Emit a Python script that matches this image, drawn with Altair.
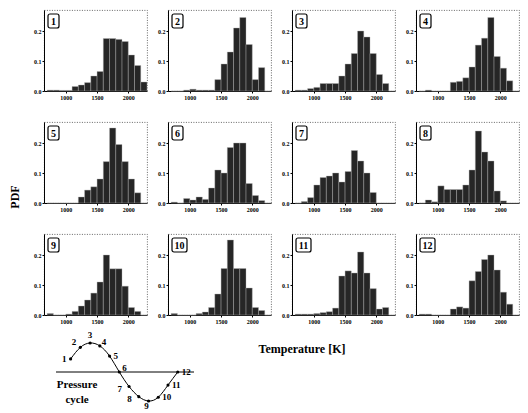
import altair as alt
import pandas as pd

# ---- histogram data (PDF per 100 K temperature bin) ----
bin_starts = [700, 800, 900, 1000, 1100, 1200, 1300, 1400,
              1500, 1600, 1700, 1800, 1900, 2000, 2100, 2200]
bin_width = 100

p1 = [0.003, 0.003, 0.002, 0.002, 0.015, 0.020, 0.028, 0.050, 0.065, 0.175, 0.175, 0.172, 0.165, 0.120, 0.085, 0.030]
p2 = [0.000, 0.000, 0.003, 0.006, 0.003, 0.003, 0.003, 0.038, 0.090, 0.130, 0.210, 0.245, 0.155, 0.038, 0.078, 0.000]
p3 = [0.003, 0.003, 0.008, 0.012, 0.025, 0.025, 0.025, 0.050, 0.090, 0.125, 0.200, 0.180, 0.125, 0.055, 0.025, 0.000]
p4 = [0.000, 0.003, 0.000, 0.000, 0.000, 0.029, 0.032, 0.044, 0.080, 0.153, 0.176, 0.245, 0.115, 0.076, 0.034, 0.000]
p5 = [0.000, 0.000, 0.000, 0.000, 0.000, 0.020, 0.043, 0.054, 0.080, 0.138, 0.250, 0.195, 0.138, 0.080, 0.034, 0.000]
p6 = [0.003, 0.000, 0.015, 0.010, 0.020, 0.012, 0.050, 0.110, 0.100, 0.185, 0.200, 0.200, 0.065, 0.025, 0.008, 0.000]
p7 = [0.000, 0.005, 0.018, 0.060, 0.085, 0.090, 0.100, 0.070, 0.105, 0.175, 0.140, 0.100, 0.035, 0.000, 0.000, 0.000]
p8 = [0.000, 0.010, 0.004, 0.057, 0.045, 0.045, 0.045, 0.060, 0.110, 0.240, 0.170, 0.140, 0.040, 0.007, 0.000, 0.000]
p9 = [0.005, 0.000, 0.000, 0.003, 0.012, 0.030, 0.050, 0.073, 0.110, 0.200, 0.154, 0.154, 0.096, 0.025, 0.012, 0.000]
p10 = [0.005, 0.000, 0.000, 0.000, 0.005, 0.010, 0.025, 0.070, 0.155, 0.250, 0.155, 0.155, 0.090, 0.025, 0.015, 0.000]
p11 = [0.003, 0.003, 0.003, 0.005, 0.008, 0.011, 0.023, 0.130, 0.147, 0.140, 0.210, 0.140, 0.088, 0.020, 0.025, 0.000]
p12 = [0.003, 0.003, 0.000, 0.000, 0.000, 0.020, 0.027, 0.023, 0.114, 0.145, 0.185, 0.200, 0.150, 0.076, 0.036, 0.000]
panels = [p1, p2, p3, p4, p5, p6, p7, p8, p9, p10, p11, p12]

x_ticks = [1000, 1500, 2000]
y_ticks = [0.0, 0.1, 0.2]

# ---- pressure-cycle inset: 12 sampling points ----
cycle_n = list(range(1, 13))
cycle_phase = [30, 60, 90, 120, 150, 180, 210, 240, 270, 300, 330, 360]
cycle_p = [0.45, 0.85, 1.0, 0.9, 0.55, 0.0, -0.5, -0.85, -1.0, -0.87, -0.45, 0.0]
cycle_axis = [-15, 410]

rows = []
for i, vals in enumerate(panels, start=1):
    for b, v in zip(bin_starts, vals):
        rows.append({"panel": i, "t0": b, "t1": b + bin_width, "pdf": v})
df = pd.DataFrame(rows)

FONT = "Liberation Serif"
PW, PH = 103, 81

xs = alt.Scale(domain=[650, 2300], nice=False, zero=False)
ys = alt.Scale(domain=[0, 0.27], nice=False)

bars = alt.Chart().mark_rect(fill="#262626", stroke="#b0b0b0", strokeWidth=0.4).encode(
    x=alt.X("t0:Q", scale=xs,
            axis=alt.Axis(values=x_ticks, format="d", title=None)),
    x2="t1:Q",
    y=alt.Y("pdf:Q", scale=ys,
            axis=alt.Axis(values=y_ticks, format=".1f", title=None)),
    y2=alt.datum(0),
)

lab = alt.Chart().transform_aggregate(n="count()", groupby=["panel"])
box1 = lab.transform_filter("datum.panel < 10").mark_rect(
    fill="white", stroke="black", strokeWidth=1.2, cornerRadius=2
).encode(x=alt.value(4), x2=alt.value(15), y=alt.value(4), y2=alt.value(18))
txt1 = lab.transform_filter("datum.panel < 10").mark_text(
    font=FONT, fontWeight="bold", fontSize=10, align="center", baseline="middle", color="black"
).encode(x=alt.value(9.5), y=alt.value(11.5), text="panel:N")
box2 = lab.transform_filter("datum.panel >= 10").mark_rect(
    fill="white", stroke="black", strokeWidth=1.2, cornerRadius=2
).encode(x=alt.value(4), x2=alt.value(19), y=alt.value(4), y2=alt.value(18))
txt2 = lab.transform_filter("datum.panel >= 10").mark_text(
    font=FONT, fontWeight="bold", fontSize=10, align="center", baseline="middle", color="black"
).encode(x=alt.value(11.5), y=alt.value(11.5), text="panel:N")
# y-axis title, drawn once beside the middle row
pdf = lab.transform_filter("datum.panel == 5").mark_text(
    font=FONT, fontWeight="bold", fontSize=12, angle=270, align="center", baseline="middle", color="black"
).encode(x=alt.value(-29), y=alt.value(75), text=alt.value("PDF"))

grid = alt.layer(bars, box1, txt1, box2, txt2, pdf).properties(width=PW, height=PH).facet(
    facet=alt.Facet("panel:O",
                    header=alt.Header(labels=False, title=None, labelPadding=0,
                                      labelFontSize=1, labelExpr="''", labelColor="transparent"),
                    title=None),
    columns=4,
    data=df,
    spacing={"row": 31, "column": 21},
    bounds="flush",
).resolve_axis(x="independent", y="independent")

# ---- bottom part: inset + title ----
cyc = pd.DataFrame({"n": cycle_n, "phase": cycle_phase, "p": cycle_p})
cx = alt.Scale(domain=[-15, 410], range=[12, 150], nice=False, zero=False)
cy = alt.Scale(domain=[-1, 1], range=[70, 12], nice=False, zero=False)

base = alt.Chart(cyc)
axis_line = alt.Chart(pd.DataFrame({"a": [cycle_axis[0]], "b": [cycle_axis[1]], "z": [0]})).mark_rule(
    color="black", strokeWidth=1
).encode(x=alt.X("a:Q", scale=cx, axis=None), x2="b:Q", y=alt.Y("z:Q", scale=cy, axis=None))
curve = base.mark_line(interpolate="natural", color="black", strokeWidth=1).encode(
    x=alt.X("phase:Q", scale=cx, axis=None), y=alt.Y("p:Q", scale=cy, axis=None))
dots = base.mark_circle(size=10, color="black", opacity=1).encode(
    x=alt.X("phase:Q", scale=cx, axis=None), y=alt.Y("p:Q", scale=cy, axis=None))


def labels(ids, dx, dy, align):
    return base.transform_filter(alt.FieldOneOfPredicate(field="n", oneOf=ids)).mark_text(
        font=FONT, fontWeight="bold", fontSize=9, dx=dx, dy=dy, align=align, baseline="middle", color="black"
    ).encode(x=alt.X("phase:Q", scale=cx, axis=None), y=alt.Y("p:Q", scale=cy, axis=None), text="n:N")


lab_left = labels([1], -4, 0, "right")
lab_left2 = labels([7, 8], -7, 2, "right")
lab_up = labels([2], -4, -5, "right")
lab_up2 = labels([3], 0, -8, "center")
lab_up3 = labels([4], 2, -4, "left")
lab_right = labels([5, 10, 11, 12], 4, 0, "left")
lab_right2 = labels([6], 3, -4, "left")
lab_down = labels([9], -2, 5, "center")

press = alt.Chart(pd.DataFrame({"s": ["Pressure\ncycle"]})).mark_text(
    font=FONT, fontWeight="bold", fontSize=11, lineBreak="\n", lineHeight=15,
    align="center", baseline="middle", color="black"
).encode(x=alt.value(33), y=alt.value(54), text="s:N")
temp = alt.Chart(pd.DataFrame({"s": ["Temperature [K]"]})).mark_text(
    font=FONT, fontWeight="bold", fontSize=12, align="center", baseline="middle", color="black"
).encode(x=alt.value(258), y=alt.value(18), text="s:N")

bottom = alt.layer(axis_line, curve, dots, lab_left, lab_left2, lab_up, lab_up2, lab_up3,
                   lab_right, lab_right2, lab_down, press, temp).properties(
    width=470, height=76, view=alt.ViewBackground(stroke="transparent"))

chart = alt.vconcat(grid, bottom, spacing=5).properties(
    padding=0
).configure_view(
    stroke="#555555", strokeDash=[1, 1.5], strokeWidth=0.9
).configure_axis(
    domainColor="black", domainWidth=1, tickColor="black", tickSize=2, ticks=True,
    labelFont=FONT, labelFontWeight="bold", labelFontSize=6, labelColor="black",
    labelPadding=1, grid=False
).configure_header(labels=False, labelPadding=0, title=None)

chart.save("out.html", embed_options={"renderer": "svg", "actions": False})
